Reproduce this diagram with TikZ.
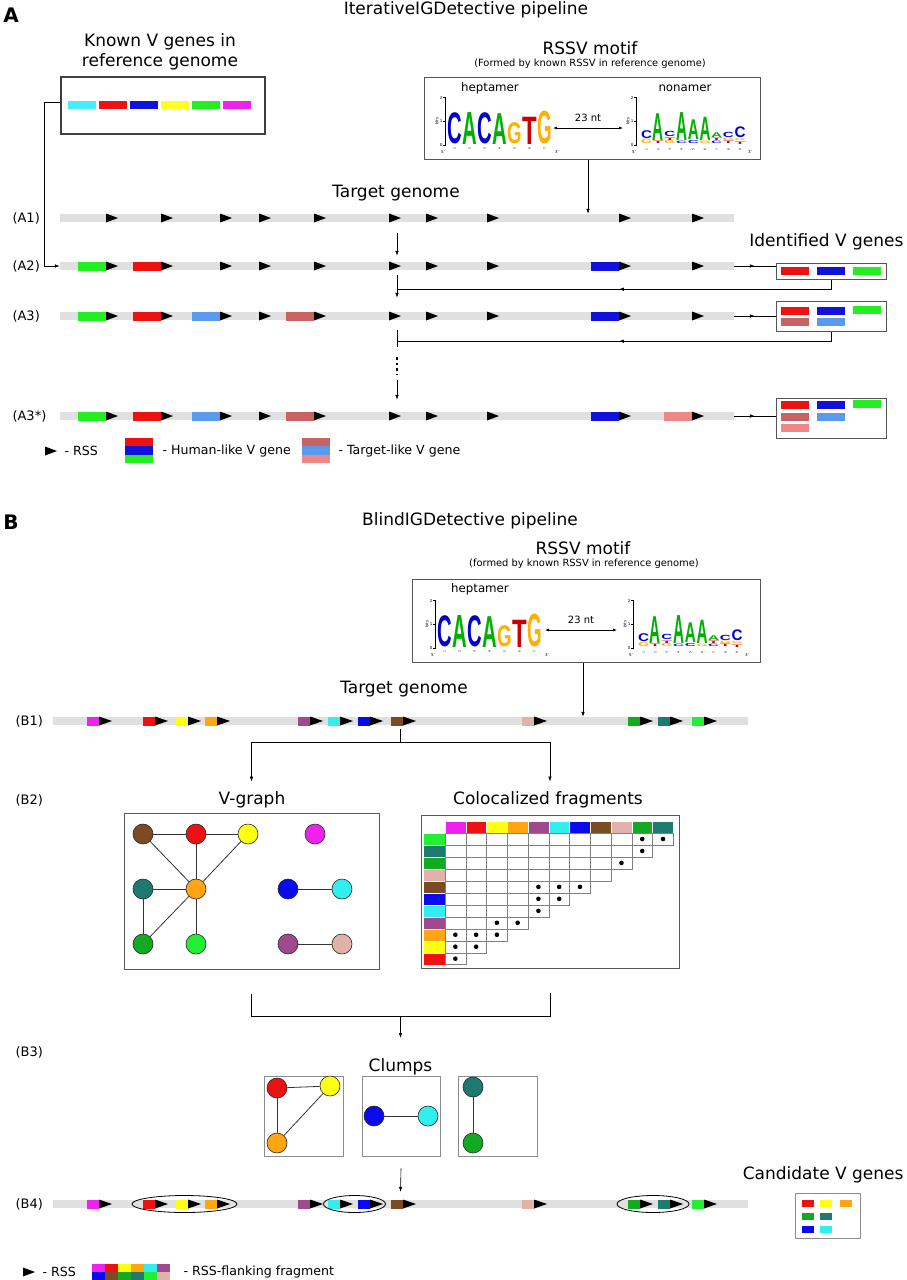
\documentclass[tikz,border=0pt]{standalone}
\usepackage{fontspec}
\usepackage{graphicx}
\setmainfont{DejaVu Sans}
\newfontfamily\logofont{Liberation Sans}
\usetikzlibrary{arrows.meta,decorations.markings,positioning}

\definecolor{barg}{HTML}{E0E0E0}
\definecolor{boxg}{HTML}{555555}
\definecolor{gcyan}{HTML}{44EEFA}
\definecolor{gred}{HTML}{EE1111}
\definecolor{gblue}{HTML}{1111DD}
\definecolor{gyel}{HTML}{FFFF22}
\definecolor{ggrn}{HTML}{22EE22}
\definecolor{gmag}{HTML}{EE22EE}
\definecolor{tred}{HTML}{C96262}
\definecolor{tblue}{HTML}{5A9AEE}
\definecolor{tpink}{HTML}{EE8888}
\definecolor{fmag}{HTML}{EE22EE}
\definecolor{fred}{HTML}{EE1111}
\definecolor{fyel}{HTML}{FFFF11}
\definecolor{forg}{HTML}{FFA511}
\definecolor{fpur}{HTML}{A04A8E}
\definecolor{fcya}{HTML}{33EEEE}
\definecolor{fblu}{HTML}{0A0AEE}
\definecolor{fbro}{HTML}{7B4B22}
\definecolor{fpnk}{HTML}{E2B2AA}
\definecolor{fgrn}{HTML}{11AA22}
\definecolor{ftea}{HTML}{1E7A6E}
\definecolor{flim}{HTML}{22EE33}
\definecolor{lgblu}{HTML}{0000CC}
\definecolor{lggrn}{HTML}{00B000}
\definecolor{lgorg}{HTML}{FFB000}
\definecolor{lgred}{HTML}{CC0000}

\begin{document}
\begin{tikzpicture}[x=1pt,y=-1pt,
  bar/.style={rectangle,fill=barg,inner sep=0pt,minimum height=8pt},
  panel/.style={rectangle,draw=boxg,line width=1pt,inner sep=0pt},
  ttl/.style={font=\fontsize{17}{20}\selectfont},
  sub/.style={font=\fontsize{9.9}{11}\selectfont},
  lbl/.style={font=\fontsize{13}{15}\selectfont,anchor=west},
  leg/.style={font=\fontsize{12.6}{14}\selectfont,anchor=west},
  big/.style={font=\fontsize{20}{20}\selectfont\bfseries},
  arr/.style={-{Latex[length=5pt,width=3.5pt]},line width=0.6pt},
  link/.style={line width=0.6pt},
  midarr/.style={line width=0.6pt,decoration={markings,mark=at position #1 with {\arrow{Latex[length=5pt,width=3.5pt]}}},postaction={decorate}},
  vnode/.style={circle,draw=black!85,line width=0.6pt,minimum size=20pt,inner sep=0pt},
  vedge/.style={draw=black!80,line width=0.8pt},
  cell/.style={draw=black!50,line width=0.4pt},
  logol/.style={anchor=south west,inner sep=0pt,outer sep=0pt},
  tinytxt/.style={font=\fontsize{4}{4}\selectfont,inner sep=0.5pt},
  heptlogo/.pic={
    \draw[line width=0.4pt] (-2,-47.4) -- (0,-47.4) -- (0,0) -- (-2,0) (-2,-23.7) -- (0,-23.7);
    \node[tinytxt,anchor=east] (y2) at (-2,-47.4) {2};
    \node[tinytxt,anchor=east] (y1) at (-2,-23.7) {1};
    \node[tinytxt,anchor=east] (y0) at (-2,0) {0};
    \node[tinytxt,rotate=90] (bt) at (-8,-23.7) {bits};
    \node[tinytxt] (p5) at (-2,7) {5'};
    \node[tinytxt] (p3) at (112,7) {3'};
    \foreach \i/\ch/\cc/\h in {0/C/lgblu/1.3,1/A/lggrn/1.35,2/C/lgblu/1.3,3/A/lggrn/1.3,4/G/lgorg/0.88,5/T/lgred/1.15,6/G/lgorg/1.37}{
      \pgfmathsetmacro\hh{\h*23.7}
      \node[logol] (h\i) at (2+\i*15,-1) {\resizebox{14.6pt}{\hh pt}{\logofont\bfseries\color{\cc}\ch}};
      \node[tinytxt,rotate=90,font=\fontsize{3}{3}\selectfont] (n\i) at (9.5+\i*15,4) {\the\numexpr\i+1\relax};
    }
  },
  nonalogo/.pic={
    \draw[line width=0.4pt] (-2,-47.4) -- (0,-47.4) -- (0,0) -- (-2,0) (-2,-23.7) -- (0,-23.7);
    \node[tinytxt,anchor=east] (y2) at (-2,-47.4) {2};
    \node[tinytxt,anchor=east] (y1) at (-2,-23.7) {1};
    \node[tinytxt,anchor=east] (y0) at (-2,0) {0};
    \node[tinytxt,rotate=90] (bt) at (-8,-23.7) {bits};
    \node[tinytxt] (p5) at (-2,7) {5'};
    \node[tinytxt] (p3) at (114,7) {3'};
    \foreach \i/\b/\h/\ch/\cc in {0/0.05/0.18/G/lgorg,0/0.27/0.33/C/lgblu,
        1/0.05/0.1/T/lgred,1/0.19/1.13/A/lggrn,
        2/0.05/0.13/G/lgorg,2/0.21/0.1/T/lgred,2/0.35/0.22/C/lgblu,
        3/0.05/0.1/C/lgblu,3/0.19/1.18/A/lggrn,
        4/0.05/0.13/C/lgblu,4/0.22/0.83/A/lggrn,
        5/0.05/0.1/G/lgorg,5/0.19/0.98/A/lggrn,
        6/0.05/0.1/C/lgblu,6/0.19/0.1/T/lgred,6/0.33/0.2/A/lggrn,
        7/0.05/0.1/T/lgred,7/0.19/0.1/G/lgorg,7/0.33/0.22/C/lgblu,
        8/0.03/0.1/T/lgred,8/0.17/0.08/G/lgorg,8/0.29/0.45/C/lgblu}{
      \pgfmathsetmacro\hh{\h*23.7}
      \pgfmathsetmacro\yy{-\b*23.7}
      \node[logol] (k\i\ch) at (5+\i*11.7,\yy) {\resizebox{11pt}{\hh pt}{\logofont\bfseries\color{\cc}\ch}};
    }
    \foreach \i in {0,...,8}
      \node[tinytxt,rotate=90,font=\fontsize{3}{3}\selectfont] (n\i) at (10.5+\i*11.7,5) {\the\numexpr\i+1\relax};
  }]
\useasboundingbox (0,0) rectangle (906,1280);
\fill[white] (0,0) rectangle (906,1280);

\node[big] (secA) at (11,15) {A};
\node[ttl] (titA) at (466,10) {IterativeIGDetective pipeline};

\node[ttl,align=center] (knownT) at (160,52) {Known V genes in\\reference genome};
\node[panel,draw=black!75,line width=1.2pt,minimum width=204pt,minimum height=57pt] (known) at (163,105.5) {};
\foreach \cc [count=\k] in {gcyan,gred,gblue,gyel,ggrn,gmag}
  \fill[\cc] (37+\k*31,101) rectangle ++(28,8);

\node[ttl] (rssvA) at (590,48) {RSSV motif};
\node[sub] (rssvAsub) at (590,64) {(Formed by known RSSV in reference genome)};
\node[panel,minimum width=336pt,minimum height=82pt] (motifA) at (592,118) {};
\node[font=\fontsize{11.8}{13}\selectfont] (heptA) at (490,88) {heptamer};
\node[font=\fontsize{11.8}{13}\selectfont] (nonaA) at (685,88) {nonamer};
\pic (lhA) at (445,145) {heptlogo};
\pic (lnA) at (636,145) {nonalogo};
\node[font=\fontsize{10}{12}\selectfont] (ntA) at (588,118) {23 nt};
\coordinate (ntAl) at (553,128);
\coordinate (ntAr) at (623,128);
\draw[{Latex[length=4pt,width=3pt]}-{Latex[length=4pt,width=3pt]},line width=0.6pt] (ntAl) -- (ntAr);

\node[ttl] (tgA) at (396,193) {Target genome};
\node[bar,minimum width=674pt] (a1) at (397,218) {};
\node[bar,minimum width=674pt] (a2) at (397,266) {};
\node[bar,minimum width=674pt] (a3) at (397,316) {};
\node[bar,minimum width=674pt] (a4) at (397,416) {};
\node[lbl] (la1) at (9,218) {(A1)};
\node[lbl] (la2) at (9,266) {(A2)};
\node[lbl] (la3) at (9,316) {(A3)};
\node[lbl] (la4) at (9,416) {(A3*)};
\foreach \y/\t/\cc in {266/106/ggrn,266/161/gred,266/619/gblue,
    316/106/ggrn,316/161/gred,316/220/tblue,316/314/tred,316/619/gblue,
    416/106/ggrn,416/161/gred,416/220/tblue,416/314/tred,416/619/gblue,416/692/tpink}
  \fill[\cc] (\t-28,\y-4.5) rectangle (\t,\y+4.5);
\foreach \y in {218,266,316,416}
  \foreach \t in {106,161,220,259,314,389,426,487,619,692}
    \fill (\t,\y-4.5) -- (\t+12,\y) -- (\t,\y+4.5) -- cycle;

\node[ttl,anchor=east] (idT) at (907,242) {Identified V genes};
\node[panel,minimum width=110pt,minimum height=16pt] (id2) at (831,271) {};
\node[panel,minimum width=110pt,minimum height=30pt] (id3) at (831,316) {};
\node[panel,minimum width=110pt,minimum height=40pt] (id4) at (831,418) {};
\foreach \x/\y/\cc in {795/271/gred,831/271/gblue,867/271/ggrn,
    795/311/gred,831/311/gblue,867/310/ggrn,795/322/tred,831/322/tblue,
    795/405/gred,831/405/gblue,867/404/ggrn,795/416.5/tred,831/416.5/tblue,795/428/tpink}
  \fill[\cc] (\x-14,\y-4) rectangle (\x+14,\y+4);

\draw[arr] ([yshift=3.5pt]known.west) -- ++(-16,0) |- (a2.west);
\draw[arr] ([xshift=-4pt]motifA.south) -- ([xshift=-4pt]motifA.south |- a1.north);
\draw[arr] ([yshift=-11pt]a1.south) -- ([yshift=6pt]a2.north);
\draw[midarr=0.5] (a2.east) -- (id2.west |- a2.east);
\draw[midarr=0.5] (a3.east) -- (id3.west |- a3.east);
\draw[midarr=0.5] (a4.east) -- (id4.west |- a4.east);
\coordinate (j2) at ([yshift=-19pt]a2.south);
\coordinate (j3) at ([yshift=-21pt]a3.south);
\draw[arr] ([yshift=-5pt]a2.south) -- ([yshift=14pt]a3.north);
\draw[midarr=0.5] (id2.south) |- (j2);
\draw[link] ([yshift=-10pt]a3.south) -- ([yshift=-27pt]a3.south);
\draw[line width=1.6pt,dash pattern=on 2.5pt off 3pt] ([yshift=-37pt]a3.south) -- ([yshift=-54pt]a3.south);
\draw[arr] ([yshift=-60pt]a3.south) -- ([yshift=12pt]a4.north);
\draw[midarr=0.5] (id3.south) |- (j3);

\fill (45,446.5) -- (57,451) -- (45,455.5) -- cycle;
\node[leg] (lgA1) at (61,451) {- RSS};
\foreach \cc [count=\k] in {gred,gblue,ggrn}
  \fill[\cc] (125,429.7+\k*8.33) rectangle ++(28,8.33);
\node[leg] (lgA2) at (159,451) {- Human-like V gene};
\foreach \cc [count=\k] in {tred,tblue,tpink}
  \fill[\cc] (302,429.7+\k*8.33) rectangle ++(28,8.33);
\node[leg] (lgA3) at (335,451) {- Target-like V gene};

\node[big] (secB) at (11,522) {B};
\node[ttl] (titB) at (470,521) {BlindIGDetective pipeline};
\node[ttl] (rssvB) at (583,548) {RSSV motif};
\node[sub] (rssvBsub) at (584,564) {(formed by known RSSV in reference genome)};
\node[panel,minimum width=348pt,minimum height=83pt] (motifB) at (586,620.5) {};
\node[font=\fontsize{11.8}{13}\selectfont] (heptB) at (480,589) {heptamer};
\pic (lhB) at (435,648) {heptlogo};
\pic (lnB) at (633,648) {nonalogo};
\node[font=\fontsize{10}{12}\selectfont] (ntB) at (581,620) {23 nt};
\coordinate (ntBl) at (545,630);
\coordinate (ntBr) at (617,630);
\draw[{Latex[length=4pt,width=3pt]}-{Latex[length=4pt,width=3pt]},line width=0.6pt] (ntBl) -- (ntBr);

\node[ttl] (tgB) at (404,689) {Target genome};
\node[bar,minimum width=695pt] (b1) at (400.5,721) {};
\node[bar,minimum width=695pt] (b4) at (400.5,1204) {};
\node[lbl] (lb1) at (12,721) {(B1)};
\node[lbl] (lb2) at (12,800) {(B2)};
\node[lbl] (lb3) at (12,1052) {(B3)};
\node[lbl] (lb4) at (12,1204) {(B4)};
\foreach \y in {721,1204}
  \foreach \cc/\x in {fmag/87,fred/143,fyel/176,forg/205,fpur/298,fcya/328,fblu/358,fbro/391,fpnk/522,fgrn/628,ftea/658,flim/692}{
    \fill[\cc] (\x,\y-4.5) rectangle (\x+12,\y+4.5);
    \fill (\x+12,\y-4.5) -- (\x+25,\y) -- (\x+12,\y+4.5) -- cycle;
  }
\draw[arr] ([xshift=-3pt]motifB.south) -- ([xshift=-3pt]motifB.south |- b1.north);

\node[ttl] (vgT) at (252,800) {V-graph};
\node[ttl] (cfT) at (548,800) {Colocalized fragments};
\node[panel,draw=black!65,minimum width=255pt,minimum height=156pt] (vbox) at (251.5,891) {};
\node[panel,draw=black!65,minimum width=258pt,minimum height=153pt] (mbox) at (550,891.5) {};
\coordinate (sp) at ([yshift=-17pt]b1.south);
\draw[link] ([yshift=-4pt]b1.south) -- (sp);
\draw[arr] (sp) -| ([yshift=31pt]vbox.north);
\draw[arr] (sp) -| ([yshift=33pt]mbox.north);

\foreach \n/\x/\y/\cc in {nbro/143/834/fbro,nred/196/834/fred,nyel/248/834/fyel,nmag/315/834/fmag,
    ntea/143/889/ftea,norg/196/889/forg,nblu/288/889/fblu,ncya/342/889/fcya,
    ngrn/143/944/fgrn,nlim/196/944/flim,npur/288/944/fpur,npnk/342/944/fpnk}
  \node[vnode,fill=\cc] (\n) at (\x,\y) {};
\foreach \p/\q in {nbro/nred,nred/nyel,nbro/norg,nred/norg,nyel/norg,ntea/norg,ntea/ngrn,norg/ngrn,norg/nlim,nblu/ncya,npur/npnk}
  \draw[vedge] (\p) -- (\q);

\foreach \cc [count=\k from 0] in {fmag,fred,fyel,forg,fpur,fcya,fblu,fbro,fpnk,fgrn,ftea}
  \filldraw[fill=\cc,draw=white,line width=0.3pt] (445+\k*20.76,821) rectangle ++(20.76,12);
\foreach \cc [count=\k from 0] in {flim,ftea,fgrn,fpnk,fbro,fblu,fcya,fpur,forg,fyel,fred}{
  \filldraw[fill=\cc,draw=white,line width=0.3pt] (423.5,833+\k*11.97) rectangle ++(21.5,11.97);
  \pgfmathtruncatemacro\m{10-\k}
  \foreach \j in {0,...,\m}
    \draw[cell] (445+\j*20.76,833+\k*11.97) rectangle ++(20.76,11.97);
}
\foreach \i/\j in {0/9,0/10,1/9,2/8,4/4,4/5,4/6,5/4,5/5,6/4,7/2,7/3,8/0,8/1,8/2,9/0,9/1,10/0}
  \fill (455.38+\j*20.76,838.985+\i*11.97) circle (2.3);

\coordinate (brl) at ([yshift=-24pt]vbox.south);
\coordinate (brr) at ([yshift=-24pt]mbox.south);
\coordinate (brm) at (400.5,1016);
\coordinate (cl0) at (400.5,1038);
\draw[link] (brl) |- (brm) -| (brr);
\draw[arr] (brm) -- (cl0);

\node[ttl] (clT) at (400.5,1067) {Clumps};
\node[panel,draw=black!45,line width=0.8pt,minimum width=79pt,minimum height=80pt] (cb1) at (303.5,1116) {};
\node[panel,draw=black!45,line width=0.8pt,minimum width=78pt,minimum height=80pt] (cb2) at (401,1116) {};
\node[panel,draw=black!45,line width=0.8pt,minimum width=79pt,minimum height=80pt] (cb3) at (497.5,1116) {};
\foreach \n/\x/\y/\cc in {cred/277/1088/fred,cyel/330/1086/fyel,corg/277/1143/forg,
    cblu/374/1116/fblu,ccya/428/1116/fcya,ctea/473/1087/ftea,cgrn/473/1143/fgrn}
  \node[vnode,fill=\cc] (\n) at (\x,\y) {};
\foreach \p/\q in {cred/cyel,cred/corg,corg/cyel,cblu/ccya,ctea/cgrn}
  \draw[vedge] (\p) -- (\q);
\draw[arr] ([yshift=-12pt]cb2.south) -- ([yshift=8pt]b4.north);

\draw[line width=0.8pt] (184.5,1204) ellipse [x radius=52.5,y radius=8.5];
\draw[line width=0.8pt] (354.5,1204) ellipse [x radius=31,y radius=8.5];
\draw[line width=0.8pt] (653,1204) ellipse [x radius=36,y radius=8.5];

\node[ttl,anchor=east] (cvT) at (907,1175) {Candidate V genes};
\node[panel,draw=black!45,line width=0.8pt,minimum width=65pt,minimum height=45pt] (cv) at (827.5,1215.5) {};
\foreach \x/\y/\cc in {808/1203/fred,826/1203/fyel,846/1203/forg,808/1216/fgrn,826/1216/ftea,808/1229/fblu,826/1229/fcya}
  \fill[\cc] (\x-6,\y-3.5) rectangle (\x+6,\y+3.5);

\fill (23,1267.5) -- (35,1272) -- (23,1276.5) -- cycle;
\node[leg] (lgB1) at (39,1272) {- RSS};
\foreach \cc [count=\k from 0] in {fmag,fred,fyel,forg,fcya,fpur}
  \fill[\cc] (92+\k*13,1264) rectangle ++(13,8);
\foreach \cc [count=\k from 0] in {fblu,fbro,fgrn,ftea,flim,fpnk}
  \fill[\cc] (92+\k*13,1272) rectangle ++(13,8);
\node[leg] (lgB2) at (180,1272) {- RSS-flanking fragment};
\end{tikzpicture}
\end{document}
